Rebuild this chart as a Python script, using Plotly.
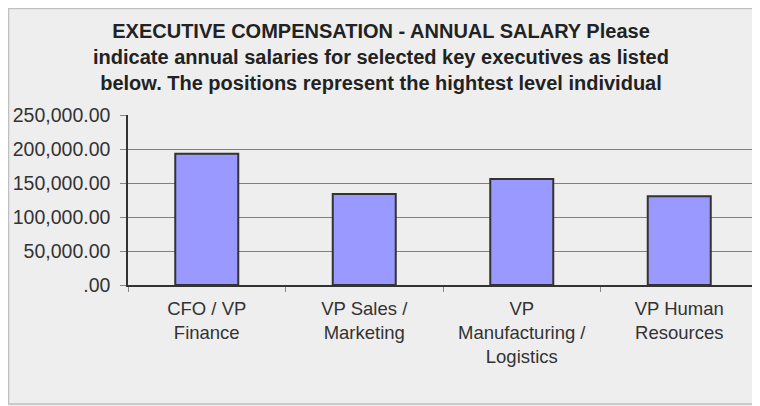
import plotly.graph_objects as go

categories = ["CFO / VP<br>Finance", "VP Sales /<br>Marketing", "VP<br>Manufacturing /<br>Logistics", "VP Human<br>Resources"]
salaries = [193000, 134000, 156000, 130500]
ytick_vals = [0, 50000, 100000, 150000, 200000, 250000]
ytick_text = [".00", "50,000.00", "100,000.00", "150,000.00", "200,000.00", "250,000.00"]
title_text = ("EXECUTIVE COMPENSATION - ANNUAL SALARY Please<br>"
              "indicate annual salaries for selected key executives as listed<br>"
              "below. The positions represent the hightest level individual")

FONT = "Liberation Sans"

fig = go.Figure(go.Bar(
    x=categories, y=salaries,
    marker=dict(color="#9999ff", line=dict(color="#333333", width=2)),
))

# page has an 8px body margin; figure is sized/positioned to compensate
OFF = 8
W, H = 760 - OFF, 406 - OFF
L, T = 128 - OFF, 115 - OFF
R = W - (758 - OFF)
B = H - (285 - OFF)
pw, ph = W - L - R, H - T - B

def px_x(x):
    return (x - L) / pw

def px_y(y):
    return (H - B - y) / ph

fig.add_shape(type="rect", xref="paper", yref="paper",
              x0=px_x(0.5), x1=px_x(751), y0=px_y(396), y1=px_y(0.5),
              line=dict(color="#c0c0c0", width=1.5), fillcolor="rgba(0,0,0,0)", layer="below")

fig.update_layout(
    width=W, height=H,
    margin=dict(l=L, r=R, t=T, b=B, autoexpand=False),
    paper_bgcolor="#eeeeee",
    plot_bgcolor="#eeeeee",
    showlegend=False,
    bargap=0.6,
    font=dict(family=FONT, size=19, color="#333333"),
    title=dict(text=title_text, x=(381 - OFF) / W, xanchor="center", xref="container",
               y=1 - 30 / H, yanchor="top", yref="container",
               font=dict(family=FONT, size=20, color="#222222", weight="bold")),
    xaxis=dict(showline=True, linecolor="#333333", linewidth=1.5,
               ticks="outside", tickson="boundaries", ticklen=5, tickcolor="#888888",
               showgrid=False, tickfont=dict(size=18.5, color="#333333"),
               ticklabelstandoff=6,
               range=[-0.5, 3.5], automargin=False),
    yaxis=dict(range=[0, 250000], tickvals=ytick_vals, ticktext=ytick_text,
               showline=True, linecolor="#333333", linewidth=1.5,
               ticks="outside", ticklen=6, tickcolor="#888888",
               ticklabelstandoff=6,
               showgrid=True, gridcolor="#808080", gridwidth=1,
               zeroline=False, tickfont=dict(size=19.5, color="#333333"),
               automargin=False),
)

fig.write_html("out.html")
